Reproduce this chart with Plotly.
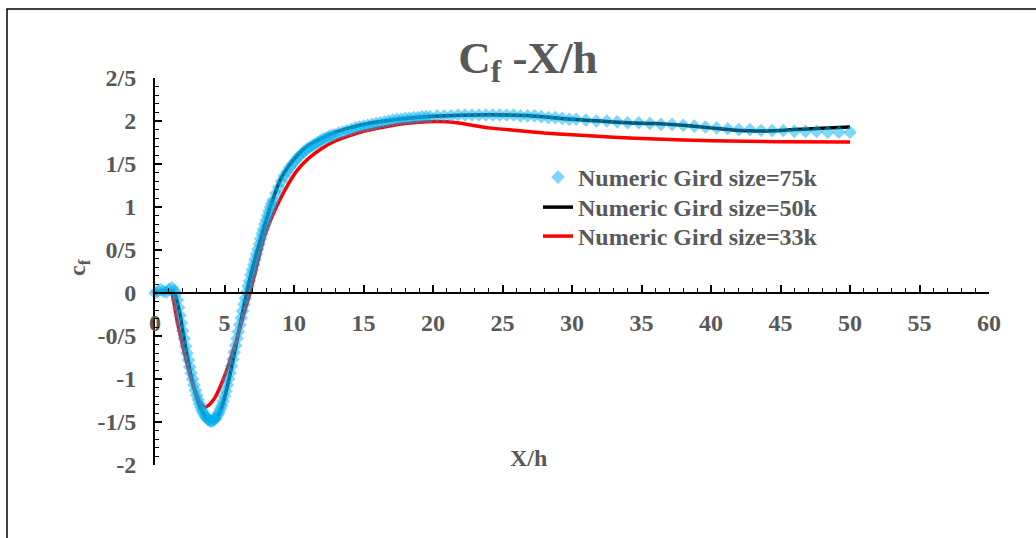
import plotly.graph_objects as go

# ---------------- data ----------------
# 75k grid (markers)
g75_x = [0, 0.2, 0.4, 0.6, 0.8, 1.0, 1.2, 1.4,
         1.5, 1.6, 1.7, 1.8, 1.9, 2.0, 2.1, 2.2, 2.3, 2.4,
         2.5, 2.6, 2.7, 2.8, 2.9, 3.0, 3.1, 3.2, 3.3, 3.4,
         3.5, 3.6, 3.7, 3.8, 3.9, 4.0, 4.1, 4.2, 4.3, 4.4,
         4.5, 4.6, 4.7, 4.8, 4.9, 5.0, 5.1, 5.2, 5.3, 5.4,
         5.5, 5.6, 5.7, 5.8, 5.9, 6.0, 6.1, 6.2, 6.3, 6.4,
         6.5, 6.6, 6.7, 6.8, 6.9, 7.0, 7.1, 7.2, 7.3, 7.4,
         7.5, 7.6, 7.7, 7.8, 7.9, 8.0, 8.1, 8.2, 8.3, 8.4, 8.5,
         8.7, 8.9, 9.1, 9.3, 9.5, 9.7, 9.9, 10.1, 10.3, 10.5, 10.7,
         10.9, 11.1, 11.3, 11.5, 11.7, 11.9, 12.1, 12.3, 12.5, 12.7, 12.9,
         13.2, 13.5, 13.8, 14.1, 14.4, 14.7, 15.0, 15.3, 15.6, 15.9, 16.2, 16.5,
         16.8, 17.1, 17.4, 17.7, 18.0, 18.3, 18.6, 18.9, 19.2, 19.5, 19.8,
         20.3, 20.8, 21.3, 21.8, 22.3, 22.8, 23.3, 23.8, 24.3, 24.8, 25.3,
         25.8, 26.3, 26.8, 27.3, 27.8, 28.3, 28.8, 29.3, 29.8, 30.3,
         31.0, 31.75, 32.5, 33.25, 34.0, 34.8, 35.6, 36.4, 37.2, 38.0, 38.8, 39.6,
         40.4, 41.2, 42.0, 42.8, 43.6, 44.4, 45.2, 46.0, 46.8, 47.6, 48.4, 49.2, 50.0]
g75_y = [0.0, 0.02, 0.04, 0.02, 0.01, 0.04, 0.06, 0.03,
         -0.01, -0.08, -0.17, -0.26, -0.35, -0.44, -0.53, -0.62, -0.70, -0.78,
         -0.86, -0.93, -1.00, -1.07, -1.13, -1.19, -1.24, -1.29, -1.33, -1.37,
         -1.40, -1.43, -1.45, -1.47, -1.48, -1.49, -1.49, -1.48, -1.47, -1.45,
         -1.42, -1.39, -1.35, -1.31, -1.26, -1.20, -1.14, -1.07, -1.00, -0.93,
         -0.85, -0.77, -0.69, -0.61, -0.53, -0.45, -0.37, -0.29, -0.21, -0.13,
         -0.06, 0.01, 0.08, 0.14, 0.21, 0.27, 0.33, 0.39, 0.45, 0.51,
         0.57, 0.63, 0.69, 0.74, 0.80, 0.85, 0.90, 0.95, 1.00, 1.04, 1.08,
         1.16, 1.23, 1.30, 1.36, 1.41, 1.46, 1.50, 1.54, 1.58, 1.61, 1.64,
         1.67, 1.69, 1.71, 1.73, 1.75, 1.77, 1.79, 1.80, 1.82, 1.83, 1.84,
         1.86, 1.87, 1.89, 1.90, 1.92, 1.93, 1.94, 1.95, 1.96, 1.97, 1.98, 1.99,
         2.00, 2.01, 2.02, 2.02, 2.03, 2.03, 2.04, 2.04, 2.05, 2.05, 2.05,
         2.06, 2.06, 2.06, 2.07, 2.07, 2.07, 2.07, 2.07, 2.07, 2.07, 2.07,
         2.07, 2.06, 2.06, 2.06, 2.05, 2.04, 2.04, 2.03, 2.02, 2.02,
         2.01, 2.00, 2.00, 1.99, 1.98, 1.98, 1.97, 1.96, 1.96, 1.95, 1.94, 1.93,
         1.92, 1.91, 1.90, 1.90, 1.89, 1.89, 1.89, 1.88, 1.88, 1.88, 1.87, 1.87, 1.87]

# 50k grid (black line)
g50_x = [0, 0.5, 1.0, 1.4, 1.8, 2.2, 2.6, 3.0, 3.4, 3.8, 4.1, 4.4, 4.8, 5.2,
         5.6, 6.0, 6.4, 6.8, 7.2, 7.8, 8.4, 9.0, 9.6, 10.2, 11.0, 12.0, 13.0,
         14.0, 15.0, 16.5, 18.0, 19.5, 21.0, 23.0, 25.0, 27.0, 28.5, 30.0,
         32.0, 34.0, 36.0, 38.0, 40.0, 42.0, 44.0, 46.0, 48.0, 50.0]
g50_y = [0.0, 0.02, 0.03, 0.0, -0.25, -0.63, -0.97, -1.21, -1.38, -1.47, -1.49,
         -1.46, -1.33, -1.09, -0.79, -0.47, -0.15, 0.15, 0.40, 0.74, 1.05, 1.31,
         1.47, 1.59, 1.71, 1.80, 1.87, 1.92, 1.96, 2.00, 2.03, 2.05, 2.06, 2.07,
         2.07, 2.06, 2.04, 2.02, 2.00, 1.98, 1.97, 1.95, 1.92, 1.89, 1.885, 1.90,
         1.915, 1.93]

# 33k grid (red line)
g33_x = [0, 0.5, 1.0, 1.2, 1.6, 2.0, 2.4, 2.8, 3.2, 3.6, 3.9, 4.3, 4.8, 5.2,
         5.6, 6.0, 6.4, 6.8, 7.3, 7.8, 8.4, 9.0, 9.6, 10.2, 11.0, 12.0, 13.0,
         14.0, 15.0, 16.5, 18.0, 19.5, 21.0, 22.5, 24.0, 26.0, 28.0, 30.0,
         33.0, 36.0, 40.0, 45.0, 50.0]
g33_y = [0.0, 0.02, 0.03, 0.0, -0.33, -0.62, -0.88, -1.10, -1.26, -1.33, -1.30,
         -1.22, -1.05, -0.88, -0.68, -0.47, -0.24, -0.02, 0.30, 0.62, 0.88,
         1.09, 1.27, 1.42, 1.56, 1.68, 1.77, 1.83, 1.88, 1.93, 1.97, 1.99,
         1.99, 1.96, 1.92, 1.89, 1.86, 1.84, 1.81, 1.79, 1.77, 1.76, 1.755]

names = ["Numeric Gird size=75k", "Numeric Gird size=50k", "Numeric Gird size=33k"]

y_tickvals = [-2, -1.5, -1, -0.5, 0, 0.5, 1, 1.5, 2, 2.5]
y_ticktext = ["-2", "-1/5", "-1", "-0/5", "0", "0/5", "1", "1/5", "2", "2/5"]
x_tickvals = [0, 5, 10, 15, 20, 25, 30, 35, 40, 45, 50, 55, 60]

GRAY = "#595959"
FONT = "Liberation Serif"
FS = 24

fig = go.Figure()
fig.add_trace(go.Scatter(x=g50_x, y=g50_y, mode="lines", name=names[1],
                         line=dict(color="black", width=3.5, shape="spline", smoothing=0.6),
                         legend="legend2"))
fig.add_trace(go.Scatter(x=g33_x, y=g33_y, mode="lines", name=names[2],
                         line=dict(color="#FF0000", width=3.5, shape="spline", smoothing=0.6),
                         legend="legend3"))
fig.add_trace(go.Scatter(x=g75_x, y=g75_y, mode="markers", name=names[0],
                         marker=dict(symbol="diamond", size=10.5, color="#00B0F0", opacity=0.5,
                                     line=dict(width=0)),
                         cliponaxis=False, legend="legend"))

L, R, T, B = 155, 47, 78, 73
W, H = 1036, 538
pw, ph = W - L - R, H - T - B


def px2x(px):
    return (px - L) / pw


def px2y(py):
    return (H - B - py) / ph


leg_font = dict(family=FONT, size=FS, color=GRAY, weight="bold")


def leg(top_px):
    return dict(x=px2x(538), y=px2y(top_px), xanchor="left", yanchor="top",
                bgcolor="rgba(0,0,0,0)", font=leg_font)


fig.update_layout(
    width=W, height=H,
    margin=dict(l=L, r=R, t=T, b=B),
    paper_bgcolor="white", plot_bgcolor="white",
    font=dict(family=FONT, color=GRAY),
    title=dict(text="C<sub>f</sub> -X/h", x=528 / W, xanchor="center",
               y=1 - 57 / H, yanchor="middle", yref="container",
               font=dict(family=FONT, size=45, color=GRAY, weight="bold")),
    legend=leg(155),
    legend2=leg(185),
    legend3=leg(214),
    showlegend=True,
)

fig.update_yaxes(
    range=[-2, 2.5], tickvals=y_tickvals, ticktext=y_ticktext,
    ticks="inside", ticklen=7, tickwidth=1.5, tickcolor="black",
    showline=True, linecolor="black", linewidth=2,
    minor=dict(dtick=0.1, ticks="inside", ticklen=4, tickwidth=1.2, tickcolor="black"),
    showgrid=False, zeroline=False,
    tickfont=dict(family=FONT, size=FS, color=GRAY, weight="bold"),
    ticklabelstandoff=12,
)
fig.update_xaxes(
    range=[0, 60], tickvals=x_tickvals,
    ticks="inside", ticklen=7, tickwidth=1.5, tickcolor="black",
    anchor="free", position=2 / 4.5,
    showline=True, linecolor="black", linewidth=2,
    minor=dict(dtick=1, ticks="inside", ticklen=4, tickwidth=1.2, tickcolor="black"),
    showgrid=False, zeroline=False,
    tickfont=dict(family=FONT, size=FS, color=GRAY, weight="bold"),
    ticklabelstandoff=8,
)

fig.add_annotation(text="c<sub>f</sub>", x=px2x(79), y=px2y(268), xref="paper", yref="paper",
                   xanchor="center", yanchor="middle",
                   showarrow=False, textangle=-90,
                   font=dict(family=FONT, size=FS, color=GRAY, weight="bold"))
fig.add_annotation(text="X/h", x=px2x(528), y=px2y(458), xref="paper", yref="paper",
                   xanchor="center", yanchor="middle",
                   showarrow=False,
                   font=dict(family=FONT, size=FS, color=GRAY, weight="bold"))

fig.add_shape(type="rect", xref="paper", yref="paper",
              x0=px2x(7), x1=px2x(1045), y0=px2y(9), y1=px2y(550),
              line=dict(color="black", width=1.5), fillcolor="rgba(0,0,0,0)", layer="above")

fig.write_html("out.html")
